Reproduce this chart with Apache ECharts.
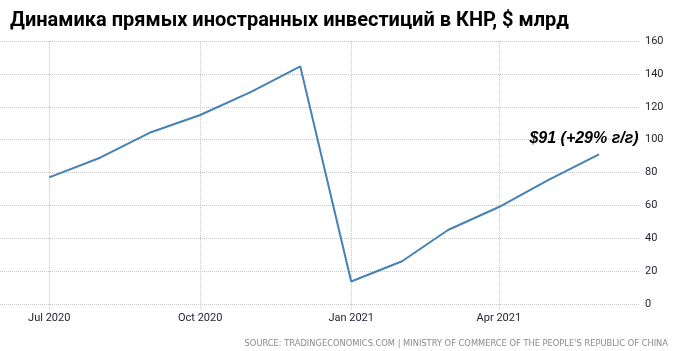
<!DOCTYPE html>
<html>
<head>
<meta charset="utf-8">
<script src="https://cdn.jsdelivr.net/npm/echarts@6/dist/echarts.min.js"></script>
<style>
  html, body { margin: 0; padding: 0; background: #fff; }
  #chart { width: 676px; height: 351px; }
</style>
</head>
<body>
<div id="chart"></div>
<script>
// monthly FDI, $ bn
var months = ['2020-07', '2020-08', '2020-09', '2020-10', '2020-11', '2020-12',
  '2021-01', '2021-02', '2021-03', '2021-04', '2021-05', '2021-06'];
var values = [77, 89, 104.5, 115, 129, 144.5, 13.7, 26, 45, 59, 75.3, 91];
var tickMonths = ['2020-07', '2020-10', '2021-01', '2021-04'];
var monthNames = ['Jan', 'Feb', 'Mar', 'Apr', 'May', 'Jun', 'Jul', 'Aug', 'Sep', 'Oct', 'Nov', 'Dec'];
var yTicks = [0, 20, 40, 60, 80, 100, 120, 140, 160];
var lastNote = '$91 (+29% г/г)';

function toTime(s, day) {
  var p = s.split('-');
  return new Date(+p[0], +p[1] - 1, day || 1).getTime();
}

var chart = echarts.init(document.getElementById('chart'));

var gridColor = '#c8c8c8';
var labelColor = '#1f1f2e';
var tickTimes = tickMonths.map(function (m) { return toTime(m); });

var option = {
  animation: false,
  title: {
    text: 'Динамика прямых иностранных инвестиций в КНР, $ млрд',
    left: 5,
    top: 6,
    textStyle: {
      fontFamily: 'Roboto',
      fontWeight: 'bold',
      fontSize: 20,
      color: '#000'
    }
  },
  grid: {
    left: 0,
    right: 36,
    top: 41,
    bottom: 47,
    containLabel: false
  },
  xAxis: {
    type: 'value',
    min: toTime('2020-06', 1),
    max: toTime('2021-06', 26),
    axisLine: { show: false },
    axisTick: {
      show: true,
      length: 6,
      customValues: tickTimes,
      lineStyle: { color: gridColor, type: 'dotted' }
    },
    splitLine: {
      show: true,
      lineStyle: { color: gridColor, type: 'dotted' }
    },
    axisLabel: {
      customValues: tickTimes,
      margin: 9,
      fontFamily: 'Roboto',
      fontSize: 11,
      color: labelColor,
      formatter: function (v) {
        var d = new Date(v);
        return monthNames[d.getMonth()] + ' ' + d.getFullYear();
      }
    }
  },
  yAxis: {
    type: 'value',
    position: 'right',
    min: yTicks[0],
    max: yTicks[yTicks.length - 1],
    interval: 20,
    axisLine: { show: false },
    axisTick: { show: false },
    splitLine: {
      show: true,
      lineStyle: { color: gridColor, type: 'dotted' }
    },
    axisLabel: {
      margin: 5,
      fontFamily: 'Roboto',
      fontSize: 11,
      color: labelColor
    }
  },
  series: [{
    type: 'line',
    data: months.map(function (m, i) { return [toTime(m), values[i]]; }),
    showSymbol: false,
    lineStyle: { color: '#4682b4', width: 2 },
    markPoint: {
      symbol: 'circle',
      symbolSize: 0,
      data: [{ coord: [toTime(months[months.length - 1]), values[values.length - 1]] }],
      label: {
        show: true,
        formatter: lastNote,
        position: 'top',
        offset: [-15, -3],
        fontFamily: 'Liberation Sans',
        fontWeight: 'bold',
        fontStyle: 'italic',
        fontSize: 16,
        color: '#000'
      }
    }
  }],
  graphic: [{
    type: 'text',
    right: 8,
    bottom: 3,
    style: {
      text: "SOURCE: TRADINGECONOMICS.COM | MINISTRY OF COMMERCE OF THE PEOPLE'S REPUBLIC OF CHINA",
      fontFamily: 'DejaVu Sans',
      fontSize: 8.3,
      fill: '#8a8a8a'
    }
  }]
};

chart.setOption(option);
</script>
</body>
</html>
